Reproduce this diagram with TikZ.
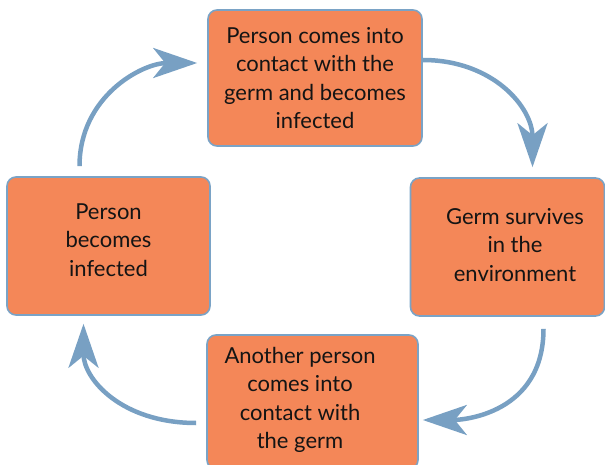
\documentclass[tikz,border=0pt]{standalone}
\usepackage{fontspec}
\setmainfont{Lato}
\usetikzlibrary{arrows.meta}
\definecolor{boxfill}{RGB}{244,135,88}
\definecolor{boxline}{RGB}{122,163,198}
\definecolor{cycleblue}{RGB}{120,160,195}

\tikzset{
  stagefont/.style={font=\fontsize{22}{28.5}\selectfont, text=black!92},
  stage/.style={draw=boxline, line width=1.6pt, fill=boxfill, rounded corners=9pt,
    align=center, inner sep=0pt, stagefont},
  cyclearrow/.style={draw=cycleblue, line width=4.5pt,
    -{Stealth[length=44pt, width=30pt, inset=12pt]}}
}

\begin{document}
\begin{tikzpicture}[x=1pt, y=-1pt]
  \useasboundingbox (0,0) rectangle (605,465);

  \node[stage, minimum width=214pt, minimum height=136pt] (contact) at (315,78)
    {Person comes into\\contact with the\\germ and becomes\\infected};
  \node[stage, minimum width=194pt, minimum height=138pt] (survives) at (507.5,247) {};
  \node[align=center, stagefont] at (515,245)
    {Germ survives\\in the\\environment};
  \node[stage, minimum width=211pt, minimum height=134pt] (another) at (312.5,402) {};
  \node[align=center, stagefont] at (300,400)
    {Another person\\comes into\\contact with\\the germ};
  \node[stage, minimum width=203pt, minimum height=138pt] (infected) at (108.5,246) {};
  \node[align=center, stagefont] at (108.5,240)
    {Person\\becomes\\infected};

  \draw[cyclearrow] ([xshift=-29pt, yshift=10pt]infected.north)
    .. controls +(0,-70) and +(-55,0) .. ([xshift=-10pt, yshift=15pt]contact.west);
  \draw[cyclearrow] ([yshift=18pt]contact.east)
    .. controls +(70,0) and +(0,-60) .. ([xshift=25pt, yshift=10pt]survives.north);
  \draw[cyclearrow] ([xshift=36pt, yshift=-12pt]survives.south)
    .. controls +(0,85) and +(40,0) .. ([xshift=4pt, yshift=-18pt]another.east);
  \draw[cyclearrow] ([xshift=-10pt, yshift=-21pt]another.west)
    .. controls +(-75,0) and +(0,55) .. ([xshift=-25pt, yshift=-8pt]infected.south);
\end{tikzpicture}
\end{document}
